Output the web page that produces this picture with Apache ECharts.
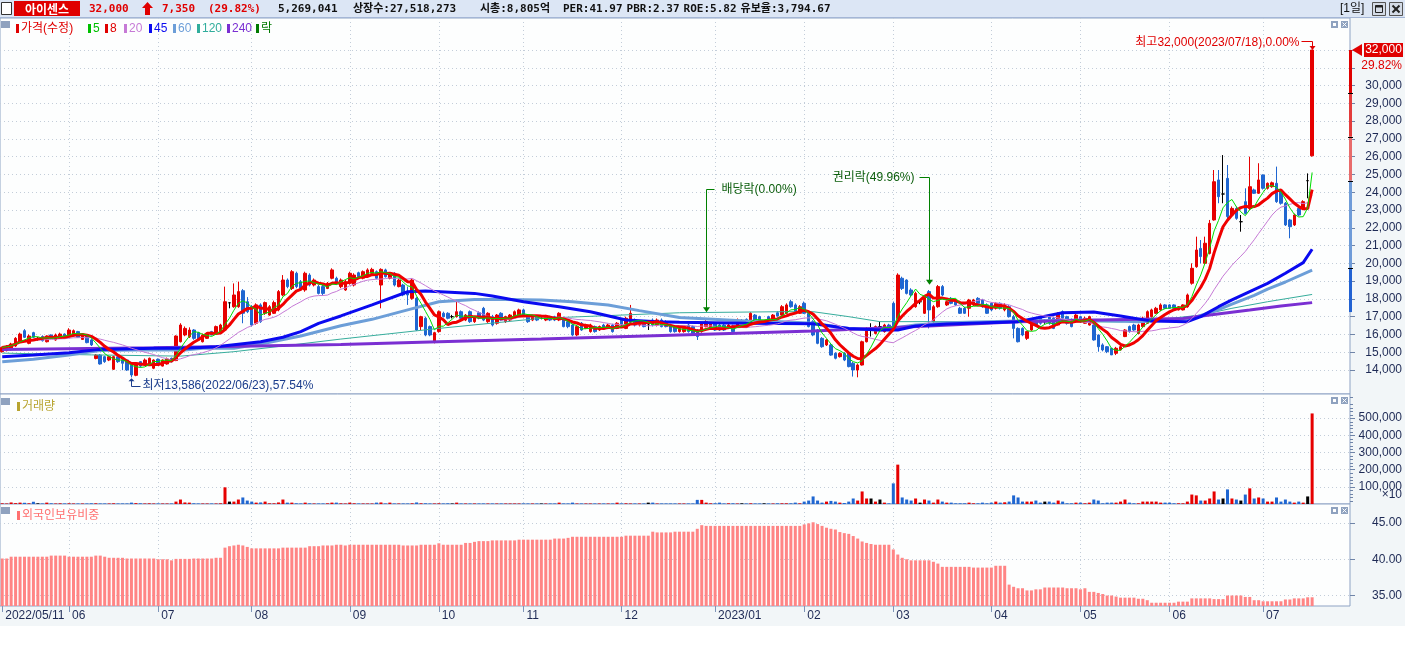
<!DOCTYPE html>
<html><head><meta charset="utf-8">
<script src="https://cdn.jsdelivr.net/npm/echarts/dist/echarts.min.js"></script>
<style>html,body{margin:0;padding:0;background:#fff}#c{width:1405px;height:648px}</style>
</head><body><div id="c"></div>
<script>
// ---------------- DATA ----------------
const tradingDays = [
 ['2022/05','11 12 13 16 17 18 19 20 23 24 25 26 27 30 31'],
 ['2022/06','02 03 07 08 09 10 13 14 15 16 17 20 21 22 23 24 27 28 29 30'],
 ['2022/07','01 04 05 06 07 08 11 12 13 14 15 18 19 20 21 22 25 26 27 28 29'],
 ['2022/08','01 02 03 04 05 08 09 10 11 12 16 17 18 19 22 23 24 25 26 29 30 31'],
 ['2022/09','01 02 05 06 07 08 13 14 15 16 19 20 21 22 23 26 27 28 29 30'],
 ['2022/10','04 05 06 07 11 12 13 14 17 18 19 20 21 24 25 26 27 28 31'],
 ['2022/11','01 02 03 04 07 08 09 10 11 14 15 16 17 18 21 22 23 24 25 28 29 30'],
 ['2022/12','01 02 05 06 07 08 09 12 13 14 15 16 19 20 21 22 23 26 27 28 29'],
 ['2023/01','02 03 04 05 06 09 10 11 12 13 16 17 18 19 20 25 26 27 30 31'],
 ['2023/02','01 02 03 06 07 08 09 10 13 14 15 16 17 20 21 22 23 24 27 28'],
 ['2023/03','02 03 06 07 08 09 10 13 14 15 16 17 20 21 22 23 24 27 28 29 30 31'],
 ['2023/04','03 04 05 06 07 10 11 12 13 14 17 18 19 20 21 24 25 26 27 28'],
 ['2023/05','02 03 04 08 09 10 11 12 15 16 17 18 19 22 23 24 25 26 30 31'],
 ['2023/06','01 02 05 07 08 09 12 13 14 15 16 19 20 21 22 23 26 27 28 29 30'],
 ['2023/07','03 04 05 06 07 10 11 12 13 14 17 18']
];
const emptySlots = 8;

// [open, close, low, high]
const candles = [
[15030,15270,14980,15320],[15090,15350,15050,15400],[15160,15460,15100,15530],[15350,15780,15300,15850],[15590,16020,15550,16100],
[16210,15840,15800,16300],[15500,15910,15450,16000],[16100,15840,15800,16150],[15740,15740,15650,15850],[15880,15650,15600,15950],
[15590,15910,15550,15950],[15970,15780,15750,16000],[15690,15970,15650,16050],[15780,16020,15750,16100],[16020,15840,15800,16060],
[15870,16250,15850,16350],[15910,16210,15880,16280],[16160,15840,15800,16200],[15720,16020,15700,16080],[15910,15540,15500,15950],
[15690,15410,15350,15750],[14650,14840,14600,14900],[14840,14340,14300,14900],[14750,14470,14400,14800],[14560,14750,14500,14800],
[14040,14750,14000,14800],[14750,14470,14400,14800],[14560,14380,13990,14650],[14560,14000,13950,14600],[14280,13720,13586,14350],
[13700,14380,13650,14450],[14470,14220,14150,14500],[14340,14560,14300,14650],[14280,14660,14250,14700],[14100,14560,14050,14600],
[14600,14380,14300,14650],[14220,14560,14200,14600],[14340,14620,14300,14700],[14660,14470,14420,14700],[14530,15910,14500,15950],
[15590,16530,15550,16630],[15970,16340,15900,16450],[15870,16250,15800,16400],[16250,15780,15700,16300],[16100,15690,15650,16150],
[15590,15970,15550,16050],[15780,16020,15750,16100],[16160,15970,15950,16200],[16100,16440,16050,16500],[16100,16530,16050,16600],
[16250,17840,16200,18690],[17780,17780,17470,17800],[17560,18220,17500,18870],[17560,18410,17500,18970],[18460,17190,16630,18550],
[17840,17280,17200,18100],[17560,16530,16450,17650],[16630,17660,16550,17750],[17660,16720,16650,17750],[17190,17790,17100,17850],
[17090,17560,17050,17650],[17190,17790,17150,17900],[17380,18410,17300,18500],[18220,19060,18150,19340],[19060,18690,18600,19150],
[18590,19530,18500,19620],[19440,18690,18600,19530],[18970,18590,18500,19060],[18500,19440,18400,19530],[19340,18780,18700,19440],
[18780,19060,18700,19150],[18690,18310,18250,18780],[18690,18310,18200,18780],[18590,18880,18550,18950],[19160,19630,19100,19720],
[19160,18880,18800,19250],[18690,19060,18600,19150],[18500,18970,18450,19060],[18880,19440,18800,19530],[18780,19340,18700,19440],
[19470,19250,19150,19530],[19160,19530,19100,19600],[19250,19630,19200,19720],[19440,19660,19400,19750],[19530,19160,19100,19600],
[18780,19660,17470,19720],[19630,19250,19200,19700],[19160,19400,19100,19450],[19440,18780,18700,19500],[18690,19060,18650,19150],
[18780,18220,18150,18850],[18410,18220,17660,18690],[18030,19060,17950,19150],[18030,16250,16200,18100],[16440,17000,16250,17050],
[16910,15970,15900,17000],[16440,15970,15900,16500],[15590,16100,15500,16150],[16160,17280,16100,17350],[17190,17000,16950,17280],
[17190,16910,16850,17250],[17000,17000,16900,17100],[17000,17280,16950,17840],[17280,16910,16850,17350],[16810,17090,16750,17150],
[17280,16720,16650,17350],[16720,17000,16650,17050],[17220,16910,16850,17300],[17470,16810,16750,17550],[16720,17190,16650,17250],
[17000,16530,16450,17100],[16630,17090,16550,17150],[17190,16810,16750,17250],[16720,17000,16650,17050],[16810,17090,16750,17150],
[17000,17280,16950,17350],[17000,17380,16950,17450],[17380,17090,17050,17450],[17090,16720,16650,17150],[16810,17000,16750,17050],
[17000,16810,16750,17050],[16910,16910,16850,17000],[16810,17040,16750,17100],[17000,16810,16750,17050],[17000,16810,16750,17050],
[16810,17190,16750,17250],[16910,16440,16400,17000],[16720,16440,16350,16800],[16530,15970,15900,16600],[15970,16440,15900,16500],
[16630,16250,16200,16700],[16340,16530,16300,16600],[16160,16530,16100,16600],[16440,16160,16100,16500],[16250,16440,16200,16500],
[16530,16340,16300,16600],[16340,16530,16300,16600],[16530,16160,16100,16600],[16340,16630,16300,16700],[16810,16530,16450,16900],
[16340,16910,16300,17000],[16720,17190,16650,17660],[16810,16530,16450,16900],[16530,16720,16450,16800],[16720,16440,16400,16800],
[16530,16530,16250,16810],[16810,16530,16450,16900],[16530,16810,16450,16900],[16810,16440,16400,16900],[16720,16440,16400,16800],
[16530,16160,16100,16600],[16440,16160,16100,16500],[16160,16340,16100,16400],[16160,16340,16100,16400],[16530,16160,16100,16600],
[16440,16060,16000,16500],[16250,15880,15690,16300],[16160,16630,16100,16700],[16440,16720,16400,16800],[16340,16630,16300,16700],
[16630,16250,16200,16700],[16530,16250,16200,16600],[16530,16250,16200,16600],[16340,16530,16300,16600],[16480,16160,16100,16550],
[16530,16810,16500,16900],[16760,16760,16650,16850],[16850,16630,16600,16900],[16720,17190,16700,17250],[17090,16810,16750,17150],
[17000,16720,16650,17050],[16760,16760,16650,16770],[17000,16720,16650,17050],[16720,17090,16700,17150],[17220,17040,17000,17300],
[17090,17560,17050,17650],[17190,17660,17150,17750],[17840,17560,17500,17950],[17660,17190,17150,17750],[17190,17560,17150,17650],
[17750,17190,17150,17850],[17190,16440,16400,17250],[16720,15970,15900,16800],[16250,15500,15450,16300],[15780,15310,15250,15850],
[15410,15690,15350,15750],[15410,14840,14800,15500],[14940,14660,14600,15000],[14750,14940,14700,15000],[14940,14560,14500,15000],
[14940,14190,14150,15000],[14380,14000,13630,14450],[14000,14280,13590,14350],[14280,15590,14250,15650],[15590,16340,15550,16400],
[16250,16250,15880,16630],[16060,16440,16000,16500],[16440,16440,16160,16720],[16160,16530,16100,16600],[16530,16250,16200,16600],
[17750,16440,16350,17850],[16900,19340,16850,19440],[19160,18590,18500,19250],[19060,18310,18250,19100],[18500,18220,18150,18600],
[17560,18310,17500,18400],[17840,17840,17700,17950],[17190,18130,17150,18200],[18410,17380,16340,18500],[16720,17560,16650,17650],
[17560,18690,17500,18780],[18690,18220,18150,18780],[17660,17840,17600,17900],[18030,17750,17700,18100],[17940,17660,17600,18000],
[17470,17190,17150,17550],[17470,17190,17150,17550],[17470,17940,17000,18000],[17660,17940,17600,18000],[18030,17750,17700,18100],
[17940,17560,17500,18000],[17660,17190,17150,17750],[17750,17380,17300,17800],[17470,17750,17400,17800],[17750,17470,17400,17800],
[17380,17660,17300,17750],[17560,17000,16950,17650],[17000,16340,15780,17100],[16340,15590,15550,16400],[16340,15970,15900,16400],
[15780,16160,15690,16200],[16250,16810,16200,16900],[16810,16530,16450,16900],[17000,16630,16550,17050],[16720,16720,16600,16850],
[17000,16630,16550,17050],[16910,16340,16300,17000],[16530,17190,16500,17250],[17280,16910,16850,17350],[17000,16630,16550,17050],
[16810,16440,16400,16900],[16720,17090,16650,17150],[17000,16720,16650,17050],[16630,16910,16600,17000],[16530,17000,16500,17050],
[16530,15690,15650,16600],[15970,15310,15030,16000],[15410,15130,15050,15500],[15310,15030,14950,15350],[15220,14850,14840,15250],
[14940,15220,14840,15300],[15130,15310,15100,15400],[15880,16250,15850,16300],[16440,16160,16100,16500],[16530,16250,16200,16600],
[16060,16530,16000,16600],[16440,16910,16400,17000],[16630,17280,16600,17350],[17000,17380,16950,17450],[17190,17470,17150,17550],
[17380,17660,17300,17750],[17660,17470,17450,17700],[17660,17470,17450,17700],[17660,17470,17450,17700],[17380,17560,17350,17600],
[17380,17660,17350,17700],[17560,18220,17500,18300],[18880,19720,18800,20000],[19810,20750,19750,21500],[20840,20380,20000,21310],
[20000,21130,19950,21500],[20560,22250,20500,22440],[22440,24590,22400,25250],[24690,23750,23380,25250],[23900,23900,23380,26090],
[24780,22630,22440,25530],[22720,23090,22650,23200],[23090,22530,22450,23200],[22340,22340,21780,22720],[23470,22810,22750,24220],
[23090,24310,23000,26000],[24130,23940,23900,24200],[23940,24690,23900,25630],[24970,24220,24150,25000],[24220,24500,24150,24550],
[24310,24530,24250,24600],[24500,23470,23400,25440],[24030,23380,23300,24100],[23380,22160,22100,23450],[22440,22060,21410,22500],
[22160,22720,22100,22800],[23090,22720,22650,23150],[23090,23470,23050,23550],[24650,24650,23660,25060],[26050,32000,26000,32000]
];

// volume, in units of 10 shares (axis shows "x10")
const volumes = [
4000,3000,9000,5000,8000,7000,4000,13000,4000,3000, 8000,4000,3000,4000,3000,4000,3000,3000,3000,3000,
4000,4000,3000,3000,3000,4000,3000,3000,3000,8000, 5000,4000,3000,4000,3000,3000,3000,3000,3000,14000,
26000,9000,8000,4000,3000,3000,3000,3000,3000,4000, 97000,14000,14000,26000,38000,20000,14000,8000,9000,14000,
4000,4000,9000,26000,8000,8000,4000,3000,8000,4000, 3000,3000,3000,4000,8000,8000,4000,3000,8000,4000,
3000,3000,3000,3000,8000,9000,3000,8000,3000,3000, 3000,3000,4000,9000,4000,4000,3000,3000,4000,3000,
4000,3000,8000,3000,3000,3000,3000,3000,3000,3000, 3000,3000,3000,3000,3000,3000,3000,3000,3000,3000,
3000,3000,3000,3000,3000,8000,3000,3000,8000,3000, 3000,3000,3000,3000,3000,3000,3000,3000,8000,3000,
4000,3000,3000,3000,3000,8000,8000,3000,3000,3000, 3000,3000,3000,3000,3000,3000,24000,24000,8000,4000,
4000,8000,3000,4000,4000,3000,4000,3000,4000,3000, 3000,4000,3000,3000,4000,4000,4000,4000,8000,4000,
14000,20000,44000,20000,8000,14000,18000,14000,8000,6000, 14000,32000,20000,73000,32000,32000,14000,26000,8000,4000,
120000,229000,38000,26000,20000,32000,8000,26000,20000,8000, 26000,14000,8000,8000,4000,4000,4000,8000,4000,4000,
8000,4000,8000,14000,8000,10000,14000,50000,38000,14000, 14000,14000,20000,8000,14000,14000,8000,20000,14000,4000,
4000,8000,8000,4000,8000,26000,20000,4000,8000,8000, 8000,14000,26000,8000,4000,4000,14000,14000,14000,14000,
8000,8000,8000,4000,4000,4000,14000,55000,50000,20000, 20000,32000,73000,26000,32000,85000,32000,26000,20000,55000,
91000,32000,38000,32000,14000,14000,38000,14000,26000,14000, 8000,14000,8000,44000,526904
];

// foreign ownership ratio (%)
const foreignRatio = [
40.1,40.1,40.35,40.35,40.35,40.35,40.35,40.35,40.35,40.35, 40.35,40.5,40.5,40.5,40.5,40.35,40.35,40.35,40.35,40.35,
40.35,40.5,40.5,40.35,40.2,40.2,40.2,40.2,40.1,40.1, 40.1,40.1,40.1,40.1,40.1,40.0,40.0,40.0,39.85,40.05,
40.05,40.05,40.05,40.1,40.1,40.1,40.1,40.1,40.2,40.2, 41.6,41.8,41.9,42.0,41.9,41.7,41.5,41.5,41.5,41.5,
41.5,41.5,41.5,41.6,41.6,41.6,41.6,41.6,41.6,41.8, 41.8,41.8,41.9,41.9,41.9,42.0,42.0,41.9,42.0,42.0,
42.0,42.0,42.0,42.0,42.0,42.0,42.0,42.0,42.0,42.0, 41.9,41.9,41.9,41.9,42.0,42.0,42.0,42.0,42.2,42.0,
42.0,42.0,42.0,42.0,42.25,42.25,42.4,42.5,42.5,42.5, 42.6,42.6,42.6,42.6,42.6,42.6,42.7,42.7,42.7,42.7,
42.7,42.7,42.7,42.7,42.85,42.85,42.85,42.95,43.1,43.1, 43.1,43.1,43.1,43.1,43.1,43.1,43.1,43.1,43.1,43.1,
43.25,43.25,43.25,43.25,43.25,43.25,43.8,43.7,43.7,43.7, 43.7,43.8,43.8,43.8,43.8,43.8,44.2,44.7,44.6,44.6,
44.6,44.6,44.6,44.6,44.6,44.6,44.6,44.6,44.6,44.6, 44.6,44.6,44.6,44.6,44.6,44.6,44.6,44.6,44.6,44.6,
44.8,44.95,45.1,44.85,44.6,44.35,44.2,44.1,43.75,43.6, 43.5,43.2,42.85,42.45,42.25,42.1,42.0,42.0,42.0,42.0,
41.35,40.65,40.2,40.0,39.85,39.85,39.85,39.85,39.85,39.65, 39.4,38.95,38.95,38.95,38.95,38.95,38.95,38.95,38.85,38.85,
38.85,38.85,38.85,39.1,39.1,39.1,36.5,36.2,36.0,36.0, 35.7,35.7,35.85,35.85,36.1,36.1,36.1,36.1,36.1,36.0,
36.0,36.0,35.85,36.0,35.5,35.5,35.35,35.2,35.0,35.0, 34.85,34.7,34.7,34.7,34.7,34.55,34.55,34.35,34.0,34.0,
34.0,34.0,34.0,34.0,34.15,34.15,34.15,34.6,34.6,34.6, 34.6,34.6,34.5,34.5,34.5,35.0,35.0,35.0,35.0,34.8,
34.8,34.35,34.35,34.2,34.2,34.2,34.2,34.2,34.45,34.45, 34.6,34.6,34.6,34.75,34.75
];

// long moving averages: [day index, value]
const ma45Pts = [[0,14750],[7,14840],[15,14970],[22,15160],[34,15220],[41,15220],[48,15310],[58,15590],[63,15840],[67,16160],[71,16620],[76,17040],[83,17660],[91,18400],[95,18440],[106,18310],[110,18160],[117,17840],[125,17560],[132,17280],[140,16810],[147,16720],[152,16680],[167,16630],[182,16600],[190,16340],[197,16250],[201,16250],[205,16470],[212,16590],[228,16720],[238,17220],[245,17260],[251,17040],[258,16750],[266,16720],[269,17000],[273,17560],[276,17940],[280,18410],[284,18870],[288,19440],[292,20040],[294,20790]];
const ma60Pts = [[0,14470],[7,14600],[15,14840],[22,15090],[30,15125],[41,15125],[45,15220],[52,15220],[60,15560],[67,15910],[76,16490],[83,16850],[91,17380],[98,17840],[106,17970],[113,17970],[121,17940],[128,17840],[136,17660],[143,17340],[152,16950],[167,16760],[175,16720],[182,16630],[190,16340],[197,16250],[205,16530],[212,16660],[228,16760],[243,16810],[255,16720],[262,16810],[267,16900],[273,17400],[276,17700],[281,18200],[284,18550],[288,18950],[294,19620]];
const ma120Pts = [[0,14950],[20,14850],[40,14780],[52,15030],[63,15350],[76,15740],[98,16340],[121,16910],[152,17220],[175,17280],[182,17280],[190,17000],[197,16720],[228,16720],[251,16700],[262,16900],[269,17090],[276,17470],[284,17840],[294,18250]];
const ma240Pts = [[0,15150],[34,15250],[76,15440],[98,15590],[121,15740],[152,15970],[182,16190],[208,16470],[228,16720],[246,16810],[265,16900],[271,17090],[280,17375],[287,17600],[294,17790]];

const priceLabelTicks = [14000,15000,16000,17000,18000,19000,20000,21000,22000,23000,24000,25000,26000,27000,28000,29000,30000];
const priceGridTicks = [14000,15000,16000,17000,18000,19000,20000,21000,22000,23000,24000,25000,26000,27000,28000,29000,30000,31000,32000];
const volTicks = [100000,200000,300000,400000,500000];
const volMinorStep = 20000;
const foreignTicks = [35,40,45];

const headerItems = [
  [89,'32,000','#e00000'],[162,'7,350','#e00000'],[208,'(29.82%)','#e00000'],[278,'5,269,041','#111111'],
  [353,'상장수:27,518,273','#111111'],[480,'시총:8,805억','#111111'],[563,'PER:41.97','#111111'],
  [626,'PBR:2.37','#111111'],[673,'ROE:5.82','#111111'],[721,'유보율:3,794.67','#111111']
];
const prevClose = 24650;
const lastPrice = 32000;
const limitBand = [32000, 29580, 27120, 24650, 19720, 17260];
const notes = [
  {idx:158, tip:17250, textAt:24180, text:'배당락(0.00%)', side:'right'},
  {idx:208, tip:18800, textAt:24860, text:'권리락(49.96%)', side:'left'}
];
const highNote = {idx:294, value:32000, text:'최고32,000(2023/07/18),0.00%'};
const lowNote = {idx:29, value:13586, text:'최저13,586(2022/06/23),57.54%'};

// ---------------- BUILD ----------------
const categories = [];
const monthStart = new Set([0]);
const labelOf = {};
tradingDays.forEach(([ym, days]) => {
  days.split(' ').forEach((d, di) => {
    const full = ym + '/' + d;
    if (di === 0) {
      monthStart.add(categories.length);
      const m = ym.split('/')[1];
      labelOf[full] = (m === '01') ? ym : m;
    }
    categories.push(full);
  });
});
labelOf[categories[0]] = categories[0];
for (let k = 1; k <= emptySlots; k++) categories.push('+' + k);

const closes = candles.map(r => r[1]);
function movingAvg(n) {
  return closes.map((_, i) => {
    let s = 0, c = 0;
    for (let k = Math.max(0, i - n + 1); k <= i; k++) { s += closes[k]; c++; }
    return Math.round(s / c);
  });
}
function sparse(pts) {
  const a = new Array(candles.length).fill(null);
  pts.forEach(([i, v]) => { a[i] = v; });
  return a;
}
const UP = '#e60000', DN = '#1f66d1', FLAT = '#000000';
const candleColor = r => r[1] > r[0] ? UP : (r[1] < r[0] ? DN : FLAT);

const F = '"Liberation Sans","Noto Sans CJK KR",sans-serif';
const FH = '"DejaVu Sans Mono","Noto Sans CJK KR",monospace';
const AXC = '#1e2a55';
const GRIDC = '#c3cdd9';

const isMonth = (idx) => monthStart.has(idx);
const isMonthNoFirst = (idx) => idx !== 0 && monthStart.has(idx);

function xAx(gi, bottom) {
  return {
    type: 'category', gridIndex: gi, data: categories, boundaryGap: true,
    axisLine: {show: false},
    axisTick: bottom ? {show: true, alignWithLabel: true, interval: isMonth, length: 6, lineStyle: {color: '#7f95b8'}} : {show: false},
    axisLabel: bottom ? {show: true, interval: isMonth, formatter: v => labelOf[v] || '', align: 'left', padding: [0,0,0,3], margin: 4, color: AXC, fontSize: 12, fontFamily: F} : {show: false},
    splitLine: {show: true, interval: isMonthNoFirst, alignWithLabel: true, lineStyle: {color: GRIDC, type: [1, 3], width: 1}}
  };
}
function yAx(gi, min, max, labelVals, tickVals, fmt) {
  return {
    type: 'value', gridIndex: gi, position: 'right', min, max,
    axisLine: {show: false},
    axisTick: {show: true, customValues: tickVals, length: 5, lineStyle: {color: '#6f84a8'}},
    axisLabel: {show: true, customValues: labelVals, formatter: fmt, align: 'right', margin: 52, color: AXC, fontSize: 12, fontFamily: F},
    splitLine: {show: true, lineStyle: {color: GRIDC, type: [1, 3], width: 1}}
  };
}
const gridBase = {left: 0, right: 55, show: true, backgroundColor: '#fdfefe', borderColor: '#8ea3c4', borderWidth: 1};

const lineS = (data, color, width, z) => ({
  type: 'line', xAxisIndex: 0, yAxisIndex: 0, data, showSymbol: false, symbol: 'none',
  connectNulls: true, silent: true, z: z || 3, lineStyle: {color, width}, itemStyle: {color}
});

const option = {
  animation: false,
  backgroundColor: '#f2f6f8',
  grid: [
    Object.assign({top: 18, height: 376}, gridBase),
    Object.assign({top: 394, height: 110}, gridBase),
    Object.assign({top: 504, height: 102}, gridBase)
  ],
  xAxis: [xAx(0, false), xAx(1, false), xAx(2, true)],
  yAxis: [
    yAx(0, 12650, 33800, priceLabelTicks, priceGridTicks, v => v.toLocaleString('en-US')),
    yAx(1, 0, 640000, volTicks, volTicks, v => v.toLocaleString('en-US')),
    yAx(2, 33.55, 47.62, foreignTicks, foreignTicks, v => Number(v).toFixed(2))
  ],
  series: [
    {type: 'candlestick', xAxisIndex: 0, yAxisIndex: 0, data: candles, barWidth: 3, silent: true, z: 2,
     itemStyle: {color: UP, color0: DN, borderColor: UP, borderColor0: DN, borderColorDoji: FLAT, borderWidth: 1}},
    lineS(sparse(ma120Pts), '#36ad9c', 1),
    lineS(sparse(ma60Pts), '#6c9ed8', 3),
    lineS(sparse(ma240Pts), '#7a2fd2', 3),
    lineS(sparse(ma45Pts), '#0a0af0', 3),
    lineS(movingAvg(20), '#c67ad6', 1),
    lineS(movingAvg(8), '#f00000', 3),
    lineS(movingAvg(5), '#00dd00', 1),
    {type: 'bar', xAxisIndex: 1, yAxisIndex: 1, barWidth: 3, silent: true,
     data: volumes.map((v, i) => ({value: v, itemStyle: {color: candleColor(candles[i])}}))},
    {type: 'bar', xAxisIndex: 2, yAxisIndex: 2, barWidth: 3, silent: true, data: foreignRatio, itemStyle: {color: '#ff8585'}}
  ]
};

const chart = echarts.init(document.getElementById('c'));
chart.setOption(option);

// ---------------- OVERLAY (header, legends, annotations) ----------------
const G = [];
const T = (x, y, text, fill, font, align, z) => G.push({type: 'text', x, y, silent: true, z: z || 60,
  style: {text, fill, font, align: align || 'left', verticalAlign: 'middle'}});
const R = (x, y, w, h, style, z) => G.push({type: 'rect', shape: {x, y, width: w, height: h}, style, silent: true, z: z || 55});
const L = (pts, stroke, lw, z) => G.push({type: 'polyline', shape: {points: pts}, style: {stroke, lineWidth: lw || 1, fill: null}, silent: true, z: z || 61});
const PG = (pts, fill, z) => G.push({type: 'polygon', shape: {points: pts}, style: {fill}, silent: true, z: z || 61});
const mctx = document.createElement('canvas').getContext('2d');
const textW = (t, font) => { mctx.font = font; return mctx.measureText(t).width; };

// bottom white strip
R(0, 626, 1405, 22, {fill: '#ffffff'}, 1);

// header bar
R(0, 0, 1405, 17, {fill: '#dce6f5'});
L([[0, 17.5], [1405, 17.5]], '#a4b6d6', 1, 56);
R(1.5, 2.5, 10, 12, {fill: '#ffffff', stroke: '#333333', lineWidth: 1});
R(14, 1, 66, 15, {fill: '#e00000'});
T(47, 9, '아이센스', '#ffffff', 'bold 12px "Noto Sans CJK KR"', 'center');
const HB = 'bold 11px ' + FH;
let prevEnd = 0;
headerItems.forEach(([x0, t, c]) => {
  const x = Math.max(x0, prevEnd + 4);
  T(x, 9, t, c, HB);
  prevEnd = x + textW(t, HB);
});
PG([[147.5, 2], [153, 8], [150, 8], [150, 15], [145, 15], [145, 8], [142, 8]], '#e00000');
T(1340, 9, '[1일]', '#111111', '12px ' + F);
R(1372.5, 2.5, 13, 13, {fill: '#d4dbe6', stroke: '#555555', lineWidth: 1});
R(1375.5, 5.5, 7, 7, {fill: null, stroke: '#222222', lineWidth: 1}, 61);
L([[1375.5, 6.5], [1382.5, 6.5]], '#222222', 2);
R(1389.5, 2.5, 13, 13, {fill: '#d4dbe6', stroke: '#555555', lineWidth: 1});
L([[1392.5, 5.5], [1399.5, 12.5]], '#222222', 2);
L([[1399.5, 5.5], [1392.5, 12.5]], '#222222', 2);

// legends
const sq = (y) => R(1, y, 9, 7, {fill: '#8fa2bf'});
sq(21); sq(398); sq(507);
const legendItems = [
  [16, '가격(수정)', '#e00000'], [88, '5', '#00c000'], [105, '8', '#e00000'], [124, '20', '#c67ad6'],
  [149, '45', '#0a0af0'], [173, '60', '#6c9ed8'], [197, '120', '#30ad9c'], [227, '240', '#7a2fd2'], [256, '락', '#007a00']
];
legendItems.forEach(([x, t, c]) => { R(x, 24, 3, 9, {fill: c}); T(x + 5, 28.5, t, c, '12px ' + F); });
R(17, 402, 3, 9, {fill: '#b8a430'}); T(22, 406.5, '거래량', '#b8a430', '12px ' + F);
R(17, 511, 3, 9, {fill: '#ff7070'}); T(22, 515.5, '외국인보유비중', '#ff7070', '12px ' + F);

// panel icons
[21, 397, 507].forEach(y => {
  R(1331, y, 7, 7, {fill: '#8fa2bf'});
  R(1333, y + 2, 3, 3, {fill: '#ffffff'}, 56);
  R(1341, y, 7, 7, {fill: '#8fa2bf'});
  L([[1342.5, y + 1.5], [1346.5, y + 5.5]], '#ffffff', 1);
  L([[1346.5, y + 1.5], [1342.5, y + 5.5]], '#ffffff', 1);
});

// volume multiplier and minor ticks
T(1402, 495, '×10', AXC, '12px ' + F, 'right');
for (let v = volMinorStep; v < 640000; v += volMinorStep) {
  if (v % 100000 === 0) continue;
  const y = Math.round(chart.convertToPixel({gridIndex: 1}, [0, v])[1]) + 0.5;
  L([[1350, y], [1353, y]], '#6f84a8', 1, 58);
}

// price-limit band on the price axis
const py = v => chart.convertToPixel({gridIndex: 0}, [0, v])[1];
const px = i => chart.convertToPixel({gridIndex: 0}, [i, lastPrice])[0];
const bandColors = ['#e00000', '#e33b3b', '#e86b6b', '#6e9bd8', '#2262d2'];
for (let k = 0; k < limitBand.length - 1; k++) {
  const y1 = py(limitBand[k]), y2 = py(limitBand[k + 1]);
  R(1349, y1, 3, y2 - y1, {fill: bandColors[k]}, 57);
}
[1, 2, 3, 4].forEach(k => { const y = Math.round(py(limitBand[k])) + 0.5; L([[1348, y], [1353, y]], '#000000', 1, 58); });

// current price tag
const yp = py(lastPrice);
PG([[1352, yp], [1362, yp - 6], [1362, yp + 6]], '#e00000', 62);
R(1364, yp - 7, 39, 14, {fill: '#e00000'}, 62);
T(1383.5, yp, lastPrice.toLocaleString('en-US'), '#ffffff', '12px ' + F, 'center', 63);
R(1364, yp + 9, 39, 14, {fill: '#f2f6f8'}, 62);
T(1402, yp + 16, ((lastPrice - prevClose) / prevClose * 100).toFixed(2) + '%', '#e00000', '12px ' + F, 'right', 63);

// high / low notes
{
  const x = Math.round(px(highNote.idx)) + 0.5, y = py(highNote.value);
  const yt = Math.round(y - 9) + 0.5;
  L([[x - 11, yt], [x, yt], [x, y - 3]], '#e00000', 1);
  PG([[x - 3, y - 4], [x + 3, y - 4], [x, y]], '#e00000');
  T(x - 13, yt + 1, highNote.text, '#e00000', '12px ' + F, 'right');
}
{
  const x = Math.round(px(lowNote.idx)) + 0.5, y = py(lowNote.value);
  const yb = Math.round(y + 9) + 0.5;
  L([[x, y + 3], [x, yb], [x + 9, yb]], '#1a3c8c', 1);
  PG([[x - 3, y + 4], [x + 3, y + 4], [x, y + 1]], '#1a3c8c');
  T(x + 11, yb - 0.5, lowNote.text, '#1a3c8c', '12px ' + F);
}
// ex-dividend / ex-rights notes
notes.forEach(n => {
  const x = Math.round(px(n.idx)) + 0.5, yt = Math.round(py(n.textAt)) + 0.5, ytip = py(n.tip);
  if (n.side === 'right') {
    L([[x + 8, yt], [x, yt], [x, ytip - 4]], '#008000', 1);
    T(x + 15, yt, n.text, '#0b5d0b', '12px ' + F);
  } else {
    L([[x - 10, yt], [x, yt], [x, ytip - 4]], '#008000', 1);
    T(x - 15, yt, n.text, '#0b5d0b', '12px ' + F, 'right');
  }
  PG([[x - 3.5, ytip - 5], [x + 3.5, ytip - 5], [x, ytip]], '#008000');
});

chart.setOption({graphic: {elements: G}});
</script>
</body></html>
